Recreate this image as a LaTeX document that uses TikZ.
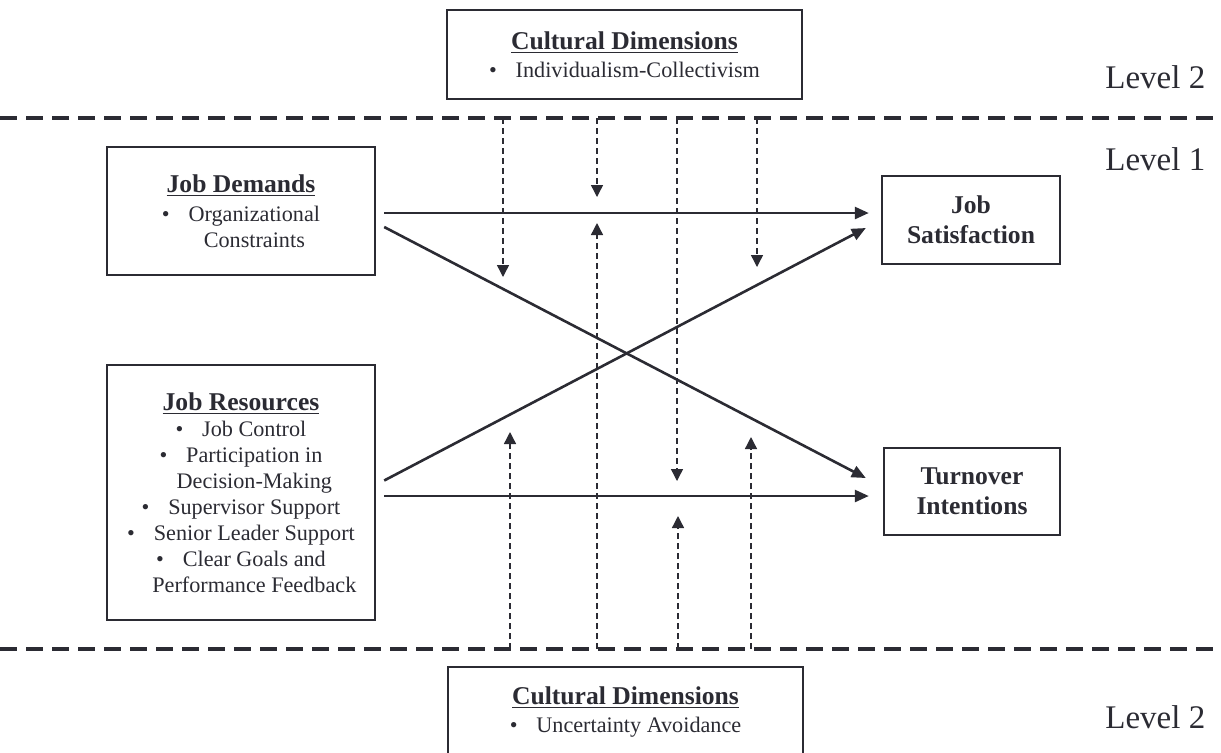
\documentclass[tikz,border=0pt]{standalone}
\usepackage{fontspec}
\setmainfont{Liberation Serif}
\usetikzlibrary{arrows.meta,calc}
\definecolor{InkColor}{rgb}{0.17,0.17,0.2}
\tikzset{
  box/.style={draw=InkColor, line width=1.2pt, align=center, inner sep=0pt, text=InkColor,
              font=\fontsize{11.1}{13}\selectfont},
  outcome/.style={box, font=\fontsize{12.8}{15}\selectfont\bfseries},
  path/.style={draw=InkColor, line width=1.3pt, -{Triangle[length=7pt,width=6pt]}},
  mod/.style={draw=InkColor, line width=0.7pt, dash pattern=on 3pt off 2pt,
              -{Triangle[length=6pt,width=6pt]}},
  levelline/.style={draw=InkColor, line width=2pt, dash pattern=on 8.5pt off 4.5pt},
  level/.style={text=InkColor, font=\fontsize{16.5}{18}\selectfont, inner sep=0pt, anchor=base west}
}
\newcommand{\heading}[1]{{\fontsize{12.8}{13}\selectfont\bfseries\underline{#1}}}
\newcommand{\bul}{\textbullet\hspace{0.85em}}
\newcommand{\hng}{\hphantom{\bul}}

\begin{document}
\begin{tikzpicture}[x=0.5pt,y=-0.5pt]
\useasboundingbox (0,0) rectangle (1221,752);
\clip (0,0) rectangle (1221,752);

%% level separators
\coordinate (topL) at (0,118);
\coordinate (topR) at (1221,118);
\coordinate (botL) at (0,649);
\coordinate (botR) at (1221,649);
\draw[levelline] (topL) -- (topR);
\draw[levelline] (botL) -- (botR);

\node[level] (lvtwoa) at (1105,88) {Level 2};
\node[level] (lvone) at (1105,170) {Level 1};
\node[level] (lvtwob) at (1105,728) {Level 2};

%% boxes
\node[box, minimum width=177.5pt, minimum height=44.5pt] (cultop) at (624.5,54.5)
  {\heading{Cultural Dimensions}\\[1pt]\bul Individualism-Collectivism};
\node[box, minimum width=134pt, minimum height=64pt] (dem) at (241,211)
  {\heading{Job Demands}\\[1.5pt]\bul Organizational\\\hng Constraints};
\node[box, minimum width=134pt, minimum height=127.5pt] (res) at (241,492.5)
  {\heading{Job Resources}\\\bul Job Control\\\bul Participation in\\\hng Decision-Making\\
   \bul Supervisor Support\\\bul Senior Leader Support\\\bul Clear Goals and\\\hng Performance Feedback};
\node[outcome, minimum width=89pt, minimum height=44pt] (sat) at (971,220) {Job\\Satisfaction};
\node[outcome, minimum width=88pt, minimum height=43.5pt] (tur) at (972,491.5) {Turnover\\Intentions};
\node[box, minimum width=177.5pt, minimum height=44.5pt] (culbot) at (625.5,711.5)
  {\heading{Cultural Dimensions}\\[1pt]\bul Uncertainty Avoidance};

%% main paths
\draw[path] ([xshift=4pt,yshift=-1pt]dem.east) -- ($(dem.east -| sat.west)+(-6pt,-1pt)$);
\draw[path] ([xshift=4pt,yshift=-8pt]dem.east) -- ([xshift=-8.5pt,yshift=6.75pt]tur.west);
\draw[path] ([xshift=4pt,yshift=6pt]res.east) -- ([xshift=-7.5pt,yshift=-4pt]sat.west);
\draw[path] ([xshift=4pt,yshift=-1.75pt]res.east) -- ($(res.east -| tur.west)+(-7pt,-1.75pt)$);

%% cross-level moderation
\foreach \i/\x/\y in {1/503/277, 2/597/197, 3/677/481, 4/757/267}{
  \coordinate (dn\i) at (\x,118);
  \coordinate (dntip\i) at (\x,\y);
  \draw[mod] (dn\i) -- (dntip\i);
}
\foreach \i/\x/\y in {1/510/432, 2/597/223, 3/678/516, 4/751/437}{
  \coordinate (up\i) at (\x,649);
  \coordinate (uptip\i) at (\x,\y);
  \draw[mod] (up\i) -- (uptip\i);
}
\end{tikzpicture}
\end{document}
